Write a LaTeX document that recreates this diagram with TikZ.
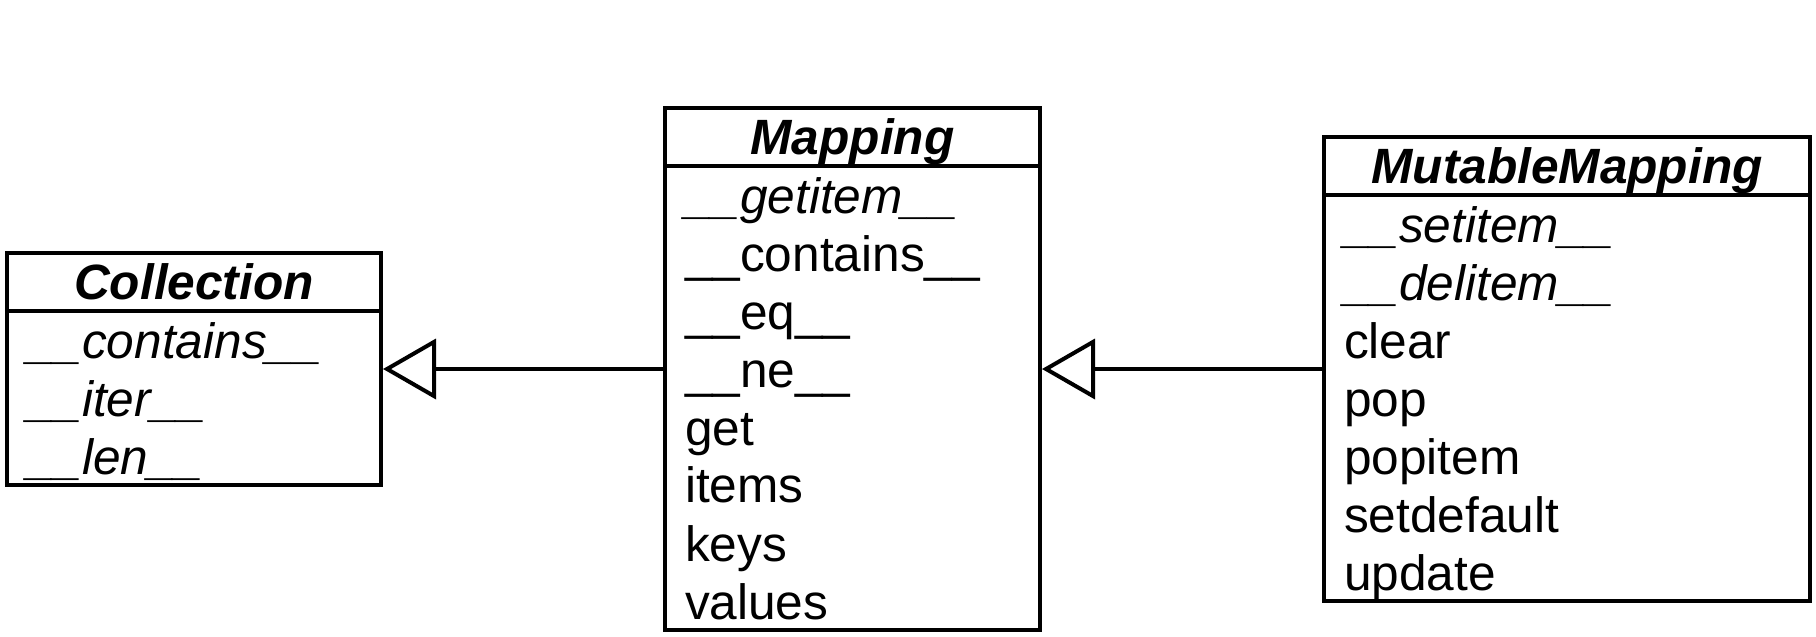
\documentclass[tikz,border=0pt]{standalone}
\usepackage{fontspec}
\setmainfont{Liberation Sans}
\usetikzlibrary{positioning,fit,arrows.meta}

\newcommand\rowstrut{\rule[-5.5pt]{0pt}{29pt}}

\tikzset{
  classhead/.style={draw, line width=2pt, anchor=north west, inner sep=0pt, outer sep=0pt,
    minimum height=29pt, text height=17.8pt, text depth=0pt,
    font=\fontsize{24.8}{29}\selectfont\bfseries\itshape},
  classbody/.style={draw, line width=2pt, inner xsep=10pt, inner ysep=0pt, outer sep=0pt,
    align=left, font=\fontsize{24.8}{29}\selectfont},
  classframe/.style={inner sep=0pt, outer sep=1pt},
  inherits/.style={-{Triangle[open, length=26.5pt, width=30pt]}, line width=2pt}
}

\begin{document}
\begin{tikzpicture}
\useasboundingbox (0,0) rectangle (908pt,-318.5pt);

\node[classhead, minimum width=187pt] (colhead) at (3.5pt,-126.5pt) {Collection};
\node[classbody, text width=167pt, below=0pt of colhead] (colbody) {%
\rowstrut{\itshape\_\_contains\_\_}\\
\rowstrut{\itshape\_\_iter\_\_}\\
\rowstrut{\itshape\_\_len\_\_}};

\node[classhead, minimum width=187.5pt] (maphead) at (332.5pt,-54pt) {Mapping};
\node[classbody, text width=167.5pt, below=0pt of maphead] (mapbody) {%
\rowstrut{\itshape\_\_getitem\_\_}\\
\rowstrut\_\_contains\_\_\\
\rowstrut\_\_eq\_\_\\
\rowstrut\_\_ne\_\_\\
\rowstrut get\\
\rowstrut items\\
\rowstrut keys\\
\rowstrut values};

\node[classhead, minimum width=243pt] (mmhead) at (662pt,-68.5pt) {MutableMapping};
\node[classbody, text width=223pt, below=0pt of mmhead] (mmbody) {%
\rowstrut{\itshape\_\_setitem\_\_}\\
\rowstrut{\itshape\_\_delitem\_\_}\\
\rowstrut clear\\
\rowstrut pop\\
\rowstrut popitem\\
\rowstrut setdefault\\
\rowstrut update};

\node[classframe, fit=(colhead)(colbody)] (col) {};
\node[classframe, fit=(maphead)(mapbody)] (map) {};
\node[classframe, fit=(mmhead)(mmbody)] (mm) {};

\draw[inherits] (map.west) -- (col.east);
\draw[inherits] (mm.west) -- (map.east);

\end{tikzpicture}
\end{document}
